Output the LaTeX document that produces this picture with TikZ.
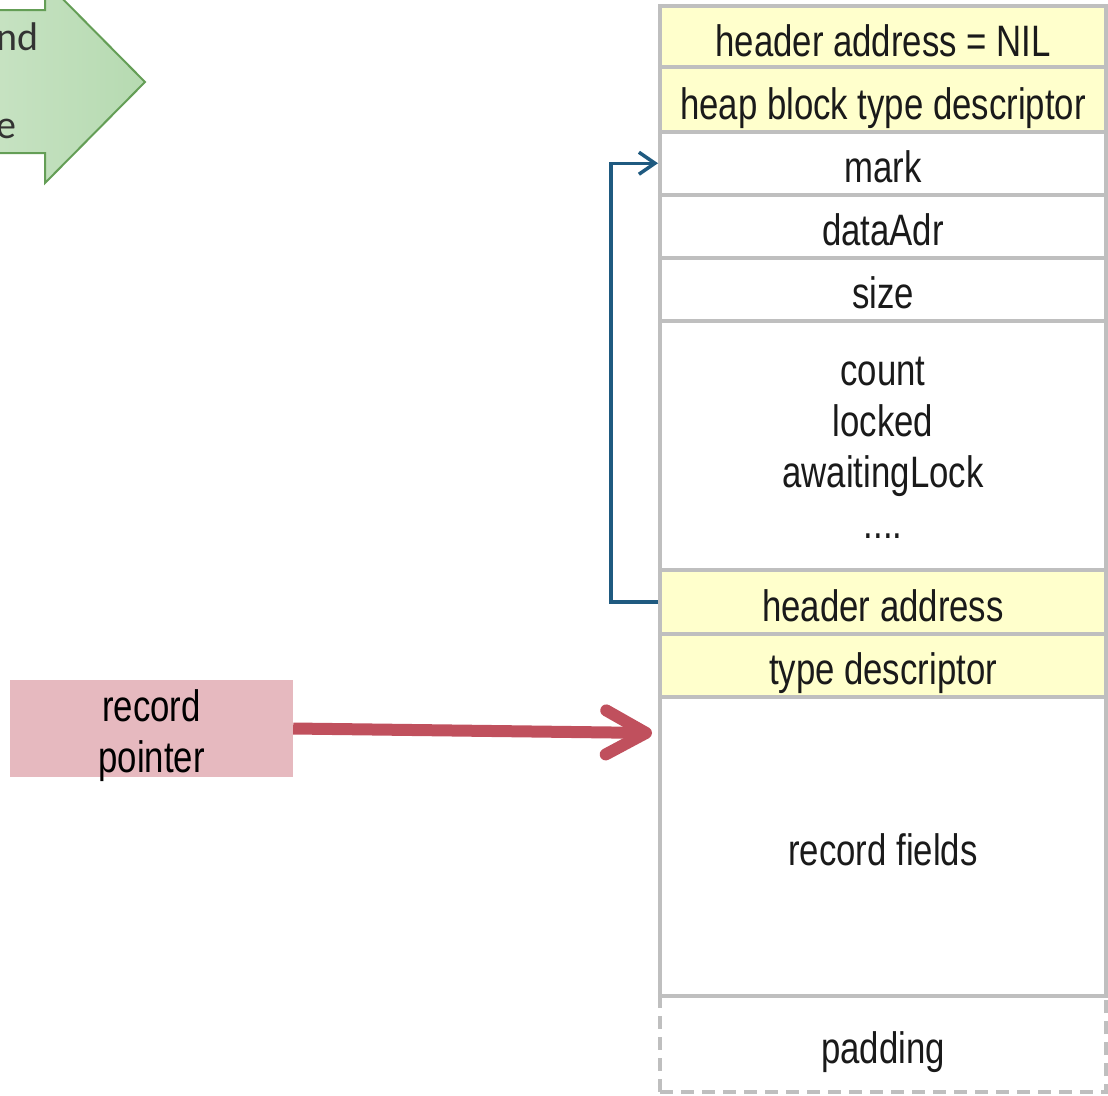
\documentclass[tikz,border=0pt]{standalone}
\usepackage{fontspec}
\setmainfont{Liberation Sans}
\newfontfamily\cellfont[FakeStretch=0.79]{Liberation Sans}
\newfontfamily\calloutfont{Carlito}
\usetikzlibrary{arrows.meta}

\definecolor{cellgray}{HTML}{BFBFBF}
\definecolor{hdryellow}{HTML}{FFFFCC}
\definecolor{ptrpink}{HTML}{E6B9BF}
\definecolor{ptrred}{HTML}{C0505D}
\definecolor{linkblue}{HTML}{1F5A80}
\definecolor{greenlight}{HTML}{DCEDD8}
\definecolor{greendark}{HTML}{B6DAB1}
\definecolor{greenedge}{HTML}{649E56}
\definecolor{inktext}{HTML}{1A1A1A}

\tikzset{
  cellframe/.style={draw=cellgray, line width=4pt, fill=white, minimum width=446pt,
    inner sep=0pt, text=inktext, font=\cellfont\fontsize{44}{51}\selectfont},
  % one-line cells: fixed text box so every label sits on the same baseline
  cell/.style={cellframe, text height=44pt, text depth=5pt},
  hdrcell/.style={cell, fill=hdryellow},
  padcell/.style={cell, dash pattern=on 13pt off 8pt},
  multitext/.style={inner sep=0pt, align=center, text=inktext,
    font=\cellfont\fontsize{44}{51}\selectfont},
  ptrbox/.style={fill=ptrpink, minimum width=283pt, minimum height=97pt, inner sep=0pt},
  calltext/.style={text=black!80, font=\calloutfont\fontsize{40}{44}\selectfont, inner sep=0pt},
  ptrarrow/.style={draw=ptrred, line width=12pt,
    -{Straight Barb[length=40pt, width=44pt, round]}},
  linkarrow/.style={draw=linkblue, line width=3.5pt,
    -{Straight Barb[length=16pt, width=22pt]}}
}

\begin{document}
\begin{tikzpicture}[x=1pt, y=-1pt]
\useasboundingbox (0,0) rectangle (1108,1095);
\clip (0,0) rectangle (1108,1095);

% green callout arrow entering from the left
\shade[left color=greenlight, right color=greendark, draw=greenedge, line width=2pt]
  (-200,10) -- (45,10) -- (45,-19) -- (145,82) -- (45,183) -- (45,153) -- (-200,153) -- cycle;
\node[calltext, anchor=base east] (callA) at (39,50) {nd};
\node[calltext, anchor=base east] (callB) at (17,138) {e};

% heap block layout, top to bottom
\node[hdrcell, minimum height=61pt]   (c1)  at (883,36.5)   {header address = NIL};
\node[hdrcell, minimum height=65pt]   (c2)  at (883,99.5)   {heap block type descriptor};
\node[cell,    minimum height=62.5pt] (c3)  at (883,163.25) {mark};
\node[cell,    minimum height=63pt]   (c4)  at (883,226)    {dataAdr};
\node[cell,    minimum height=63pt]   (c5)  at (883,289)    {size};
\node[cellframe, minimum height=249.5pt] (c6) at (883,445.25) {};
\node[multitext] (c6text) at ([yshift=-3pt]c6.center) {count\\locked\\awaitingLock\\....};
\node[hdrcell, minimum height=64pt]   (c7)  at (883,602)    {header address};
\node[hdrcell, minimum height=62.5pt] (c8)  at (883,665.25) {type descriptor};
\node[padcell, minimum height=96pt]   (c10) at (883,1044)   {padding};
\node[cell,    minimum height=299.5pt](c9)  at (883,846.25) {record fields};

% record pointer
\node[ptrbox] (rp) at (151.5,728.5) {};
\node[multitext, text=black] (rptext) at ([yshift=-7pt]rp.center) {record\\pointer};
\coordinate (rpend) at (652,733);
\draw[ptrarrow] (rp.east) -- (rpend);

% back link from the record header to the heap block mark
\draw[linkarrow] (c7.west) -- ++(-47,0) |- (c3.west);
\end{tikzpicture}
\end{document}
